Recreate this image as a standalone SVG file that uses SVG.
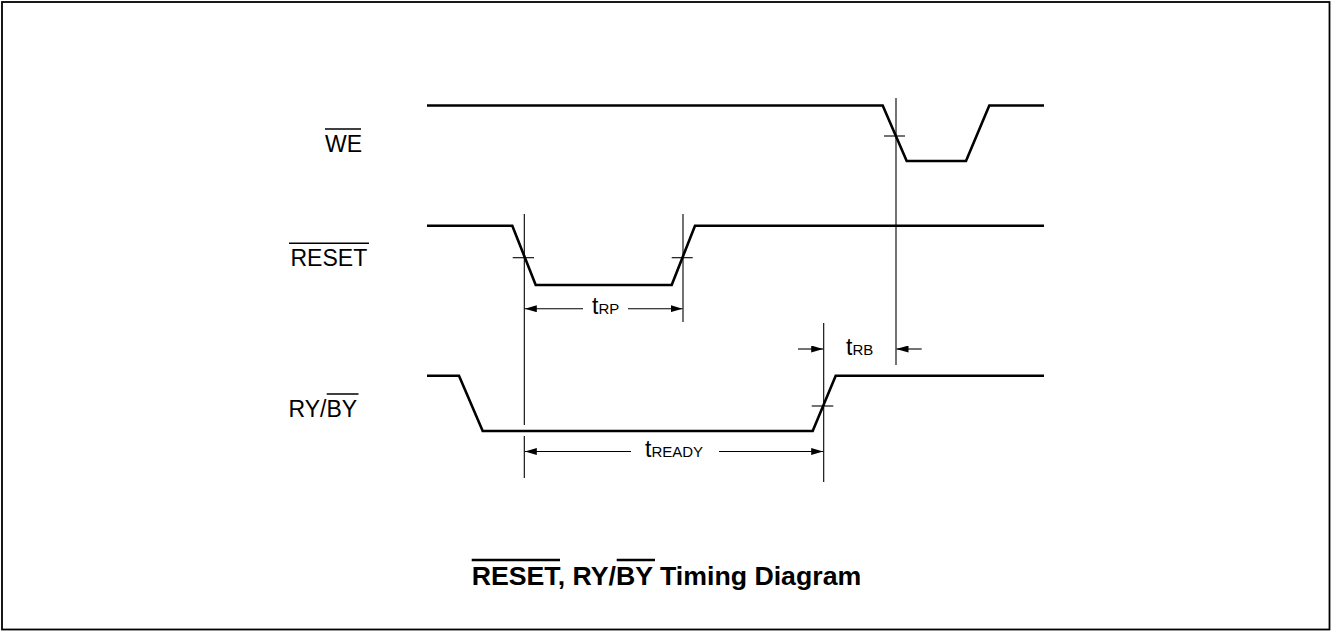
<svg xmlns="http://www.w3.org/2000/svg" width="1331" height="631" viewBox="0 0 1331 631">
<style>
.sig{fill:none;stroke:#000;stroke-width:2.6;stroke-linejoin:miter}
.thin{fill:none;stroke:#000;stroke-width:1.1}
.ovl{stroke:#000;stroke-width:1.6}
.ovb{stroke:#000;stroke-width:2.4}
.lbl{font-family:"Liberation Sans",Arial,sans-serif;font-size:23px;fill:#000}
.sub{font-size:15px}
.title{font-family:"Liberation Sans",Arial,sans-serif;font-size:26.7px;font-weight:bold;fill:#000}
</style>
<defs>
<marker id="ah" markerWidth="12" markerHeight="7" refX="12" refY="3.5" orient="auto" markerUnits="userSpaceOnUse">
<path d="M0,0 L12,3.5 L0,7 Z" fill="#000"/>
</marker>
</defs>
<rect x="2" y="2" width="1327.5" height="627.5" fill="#fff" stroke="#000" stroke-width="1.8"/>

<g id="we">
<text class="lbl" x="325" y="152">WE</text>
<line class="ovl" x1="325" y1="129" x2="361" y2="129"/>
<polyline class="sig" points="427,105.5 882.7,105.5 906.7,161 966,161 989.3,105.5 1044,105.5"/>
</g>

<g id="reset">
<text class="lbl" x="290.5" y="265.7">RESET</text>
<line class="ovl" x1="289" y1="243.3" x2="369" y2="243.3"/>
<polyline class="sig" points="427,225.7 512.3,225.7 535.7,285 671.7,285 695,225.7 1044,225.7"/>
</g>

<g id="rdyby">
<text class="lbl" x="288.5" y="417.3">RY/BY</text>
<line class="ovl" x1="326.7" y1="394" x2="358.5" y2="394"/>
<polyline class="sig" points="427,375.7 459,375.7 482.7,431 812.7,431 835.7,375.7 1044,375.7"/>
</g>

<g id="connectors">
<!-- reference verticals -->
<line class="thin" x1="524.3" y1="214" x2="524.3" y2="425"/>
<line class="thin" x1="524.3" y1="436" x2="524.3" y2="478"/>
<line class="thin" x1="683" y1="214" x2="683" y2="322"/>
<line class="thin" x1="896" y1="98" x2="896" y2="365"/>
<line class="thin" x1="823.7" y1="323" x2="823.7" y2="482"/>
<!-- crossing ticks -->
<line class="thin" x1="884" y1="136" x2="905" y2="136"/>
<line class="thin" x1="512.7" y1="257.7" x2="534" y2="257.7"/>
<line class="thin" x1="671.7" y1="257.7" x2="692.7" y2="257.7"/>
<line class="thin" x1="811.7" y1="406" x2="833.3" y2="406"/>
<!-- tRP -->
<line class="thin" x1="583" y1="308.7" x2="524.8" y2="308.7" marker-end="url(#ah)"/>
<line class="thin" x1="628" y1="308.7" x2="682.5" y2="308.7" marker-end="url(#ah)"/>
<!-- tREADY -->
<line class="thin" x1="631" y1="451.5" x2="524.8" y2="451.5" marker-end="url(#ah)"/>
<line class="thin" x1="719" y1="451.5" x2="823.2" y2="451.5" marker-end="url(#ah)"/>
<!-- tRB -->
<line class="thin" x1="798" y1="349" x2="823.2" y2="349" marker-end="url(#ah)"/>
<line class="thin" x1="921.7" y1="349" x2="896.5" y2="349" marker-end="url(#ah)"/>
</g>

<g id="timing-labels">
<text class="lbl" x="592" y="313.5">t<tspan class="sub">RP</tspan></text>
<text class="lbl" x="846" y="355">t<tspan class="sub">RB</tspan></text>
<text class="lbl" x="645" y="457">t<tspan class="sub">READY</tspan></text>
</g>

<g id="title">
<text class="title" x="471.7" y="584.5">RESET, RY/BY Timing Diagram</text>
<line class="ovb" x1="471.7" y1="560" x2="560" y2="560"/>
<line class="ovb" x1="616.7" y1="560" x2="655" y2="560"/>
</g>
</svg>
